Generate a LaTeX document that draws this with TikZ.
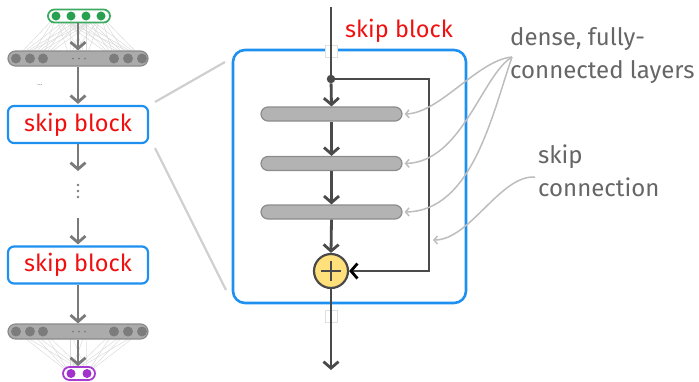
\documentclass[tikz,border=0pt]{standalone}
\usepackage{fontspec}
\setmainfont{Fira Sans}
\usetikzlibrary{arrows.meta}
\definecolor{gstroke}{HTML}{3DAA62}
\definecolor{gfill}{HTML}{27A04F}
\definecolor{pillgray}{HTML}{ABABAB}
\definecolor{pillstroke}{HTML}{8A8A8A}
\definecolor{pilldot}{HTML}{7C7C7C}
\definecolor{pstroke}{HTML}{A53BD0}
\definecolor{pfill}{HTML}{A232CC}
\definecolor{bblue}{HTML}{1E90F0}
\definecolor{sred}{HTML}{F01010}
\definecolor{arrgray}{HTML}{7A7A7A}
\definecolor{darkln}{HTML}{4A4A4A}
\definecolor{barfill}{HTML}{B3B3B3}
\definecolor{barstroke}{HTML}{8C8C8C}
\definecolor{addfill}{HTML}{FFE07A}
\definecolor{labgray}{HTML}{666666}
\definecolor{anngray}{HTML}{BDBDBD}
\definecolor{zoomgray}{HTML}{CFCFCF}
\begin{document}
\begin{tikzpicture}[x=1pt,y=-1pt,
  fanln/.style={draw=black!15, line width=0.45pt},
  greenpill/.style={draw=gstroke, line width=1.8pt, fill=white, rounded corners=6.5pt, minimum width=62pt, minimum height=13pt, inner sep=0pt},
  greendot/.style={circle, fill=gfill, minimum size=9pt, inner sep=0pt},
  graypill/.style={draw=pillstroke, line width=1.2pt, fill=pillgray, rounded corners=7.5pt, minimum width=140pt, minimum height=15pt, inner sep=0pt},
  graydot/.style={circle, fill=pilldot, minimum size=10pt, inner sep=0pt},
  tinydot/.style={circle, fill=pilldot, minimum size=2pt, inner sep=0pt},
  vdot/.style={circle, fill=arrgray, minimum size=2.6pt, inner sep=0pt},
  purplepill/.style={draw=pstroke, line width=1.8pt, fill=white, rounded corners=6.5pt, minimum width=32pt, minimum height=13pt, inner sep=0pt},
  purpledot/.style={circle, fill=pfill, minimum size=9pt, inner sep=0pt},
  sbox/.style={draw=bblue, line width=2.2pt, fill=white, rounded corners=6pt, minimum width=140pt, minimum height=37pt, inner sep=0pt, text=sred, font=\fontsize{23.5}{28}\selectfont},
  bigbox/.style={draw=bblue, line width=2.6pt, rounded corners=12pt, minimum width=233pt, minimum height=253pt, inner sep=0pt},
  titletext/.style={text=sred, font=\fontsize{23.5}{28}\selectfont, inner sep=0pt},
  layerbar/.style={draw=barstroke, line width=1.2pt, fill=barfill, rounded corners=7pt, minimum width=141pt, minimum height=14pt, inner sep=0pt},
  addnode/.style={circle, draw=darkln, line width=2.2pt, fill=addfill, minimum size=34pt, inner sep=0pt},
  branchdot/.style={circle, fill=darkln, minimum size=8.5pt, inner sep=0pt},
  breakbox/.style={draw=black!12, line width=0.6pt, fill=white, minimum width=12pt, minimum height=12pt, inner sep=0pt},
  lab/.style={text=labgray, font=\fontsize{24}{33}\selectfont, align=left, anchor=north west, inner sep=0pt},
  garrow/.style={draw=arrgray, line width=2.8pt, -{Straight Barb[length=6.5pt,width=15pt,line width=2.8pt]}},
  darrow/.style={draw=darkln, line width=2.8pt, -{Straight Barb[length=6.5pt,width=15pt,line width=2.8pt]}},
  dline/.style={draw=darkln, line width=2.8pt},
  ann/.style={draw=anngray, line width=1.5pt, -{Straight Barb[length=3.5pt,width=8pt,line width=1.5pt]}},
  zoomln/.style={draw=zoomgray, line width=2.2pt}
]
\useasboundingbox (0,0) rectangle (699,381);

% ---------- left column ----------
\foreach \i/\x in {1/56,2/71,3/86,4/101}{
  \foreach \j/\u in {1/16,2/30,3/43,4/114,5/128,6/142,7/70,8/86}{
    \draw[fanln] (\x,16) -- (\u,58);
  }
}
\foreach \i/\x in {1/70,2/87}{
  \foreach \j/\u in {1/16,2/30,3/43,4/114,5/128,6/142,7/70,8/86}{
    \draw[fanln] (\u,331) -- (\x,373.5);
  }
}

\node[greenpill] (inp) at (79,16) {};
\foreach \i/\x in {1/56,2/71,3/86,4/101}{ \node[greendot] (g\i) at (\x,16) {}; }

\node[graypill] (hid1) at (78,58.5) {};
\foreach \i/\x in {1/16,2/30,3/43,4/114,5/128,6/142}{ \node[graydot] (h\i) at (\x,58.5) {}; }
\foreach \i/\x in {1/73,2/79,3/85}{ \node[tinydot] (hm\i) at (\x,58.5) {}; }

\node[text=arrgray, font=\fontsize{7}{8}\selectfont, inner sep=0pt] (ell) at (40,85) {...};

\node[sbox] (sb1) at (78,124.5) {skip block};
\node[sbox] (sb2) at (78,265) {skip block};

\node[graypill] (hid2) at (78,331.5) {};
\foreach \i/\x in {1/16,2/30,3/43,4/114,5/128,6/142}{ \node[graydot] (k\i) at (\x,331.5) {}; }
\foreach \i/\x in {1/73,2/79,3/85}{ \node[tinydot] (km\i) at (\x,331.5) {}; }

\node[purplepill] (outp) at (79,373.5) {};
\node[purpledot] (p1) at (71,373.5) {};
\node[purpledot] (p2) at (87,373.5) {};

\coordinate (a1end) at (78,171);
\coordinate (a2start) at (78,218);
\foreach \i/\y in {1/185,2/191,3/197}{ \node[vdot] (vd\i) at (78,\y) {}; }

\draw[garrow] (inp.south -| hid1.north) -- (hid1.north);
\draw[garrow] (hid1.south) -- ([yshift=1pt]sb1.north);
\draw[garrow] (sb1.south) -- (a1end);
\draw[garrow] (a2start) -- ([yshift=1pt]sb2.north);
\draw[garrow] (sb2.south) -- (hid2.north);
\draw[garrow] (hid2.south) -- (outp.north -| hid2.south);

% ---------- zoom lines ----------
\coordinate (z1a) at (155,102);
\coordinate (z1b) at (225,62);
\coordinate (z2a) at (155,148);
\coordinate (z2b) at (226,290);
\draw[zoomln] (z1a) -- (z1b);
\draw[zoomln] (z2a) -- (z2b);

% ---------- big block ----------
\node[bigbox] (blk) at (349.5,176.5) {};
\node[titletext] (title) at (399,31) {skip block};

\node[layerbar] (l1) at (331.5,114) {};
\node[layerbar] (l2) at (331.5,163.5) {};
\node[layerbar] (l3) at (331.5,212) {};
\node[addnode] (add) at (331,271) {};
\draw[darkln, line width=2.2pt] ([xshift=-10pt]add.center) -- ([xshift=10pt]add.center);
\draw[darkln, line width=2.2pt] ([yshift=-10pt]add.center) -- ([yshift=10pt]add.center);

\node[breakbox] (brk1) at (331,51) {};
\node[breakbox] (brk2) at (331,316) {};

\coordinate (intop) at (331,7);
\node[branchdot] (br) at (331,79) {};
\coordinate (skr) at (429,79);
\coordinate (skd) at (429,271);
\coordinate (outend) at (331,370);

\draw[dline] (intop) -- (br);
\draw[darrow] (br) -- (l1.north);
\draw[darrow] (l1.south) -- (l2.north);
\draw[darrow] (l2.south) -- (l3.north);
\draw[darrow] (l3.south) -- (add.north);
\draw[darrow] (add.south) -- (outend);
\draw[dline, line join=miter, -{Straight Barb[length=6.5pt,width=15pt,line width=2.8pt,color=black]}] (br) -- (skr) -- (skd) -- (add.east);

% ---------- annotations ----------
\node[lab] (dense) at (510,27) {dense, fully-\\connected layers};
\node[lab] (skiplab) at (538,145) {skip\\connection};
\coordinate (dsrc) at (512,57);
\coordinate (ssrc) at (535,177);
\draw[ann] (dsrc) .. controls (478,60) and (440,113) .. ([xshift=2pt]l1.east);
\draw[ann] (dsrc) .. controls (482,75) and (462,162) .. ([xshift=2pt]l2.east);
\draw[ann] (dsrc) .. controls (492,115) and (472,211) .. ([xshift=2pt]l3.east);
\draw[ann] (ssrc) .. controls (500,175) and (470,240) .. (433,240);
\end{tikzpicture}
\end{document}
